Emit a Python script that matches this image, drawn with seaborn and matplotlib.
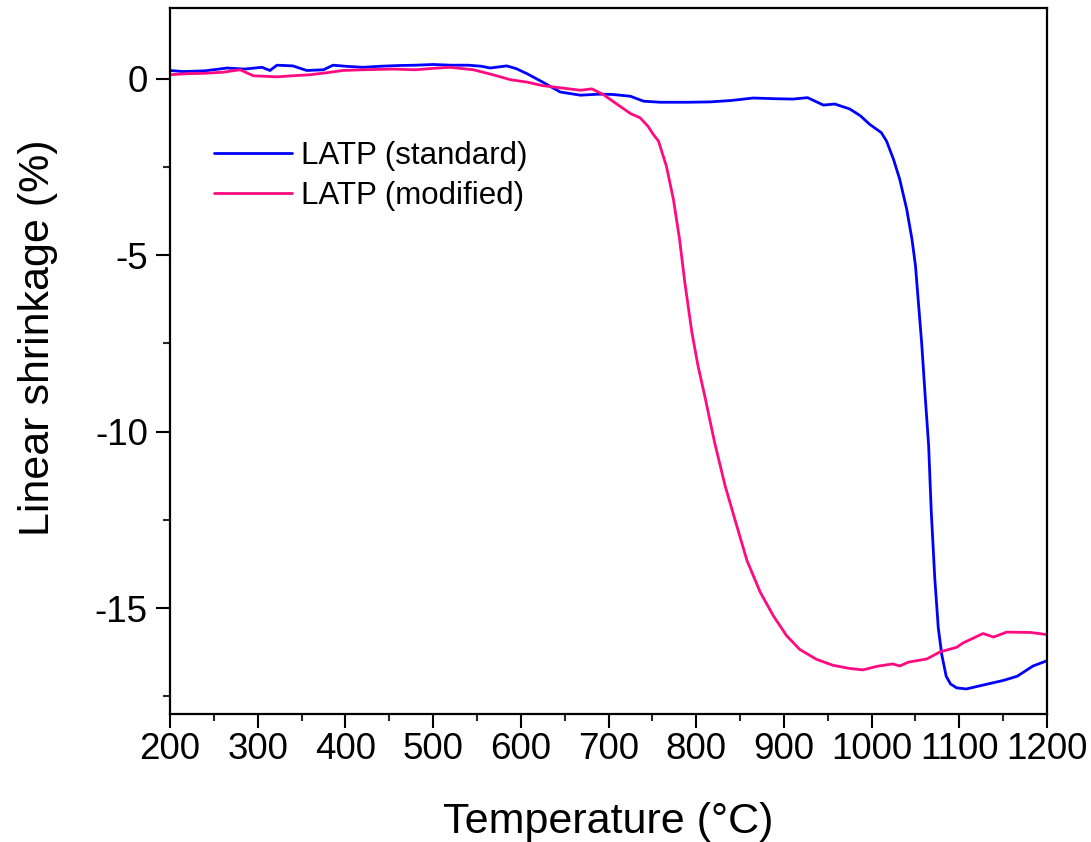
import matplotlib
matplotlib.use("Agg")
import matplotlib.pyplot as plt
import seaborn as sns
from matplotlib.ticker import MultipleLocator

# ---- data ----
temp_standard = [200, 215, 240, 265, 285, 305, 314, 322, 340, 356, 375, 386, 400, 420, 440,
                 460, 480, 500, 520, 540, 555, 565, 584, 595, 607, 625, 645, 668, 690, 705,
                 725, 740, 759, 790, 816, 840, 865, 890, 910, 927, 945, 958, 975, 987, 998,
                 1011, 1017, 1025, 1032, 1040, 1046, 1050, 1053, 1057, 1061, 1065, 1068, 1072,
                 1076, 1080, 1085, 1090, 1097, 1108, 1127, 1150, 1166, 1184, 1200]
shrink_standard = [0.23, 0.20, 0.22, 0.30, 0.27, 0.32, 0.23, 0.38, 0.36, 0.23, 0.25, 0.38, 0.35,
                   0.32, 0.35, 0.37, 0.38, 0.40, 0.38, 0.38, 0.35, 0.30, 0.36, 0.28, 0.14, -0.10,
                   -0.38, -0.47, -0.44, -0.45, -0.50, -0.64, -0.67, -0.67, -0.66, -0.62, -0.55,
                   -0.57, -0.58, -0.54, -0.75, -0.72, -0.86, -1.05, -1.30, -1.53, -1.77, -2.29,
                   -2.85, -3.70, -4.55, -5.30, -6.24, -7.47, -8.97, -10.39, -12.27, -14.15,
                   -15.56, -16.32, -16.93, -17.15, -17.26, -17.29, -17.18, -17.05, -16.93,
                   -16.64, -16.49]

temp_modified = [200, 220, 240, 260, 280, 295, 322, 340, 360, 380, 397, 420, 454, 480, 500, 519,
                 546, 568, 588, 607, 625, 645, 668, 681, 694, 710, 725, 736, 745, 751, 757, 766,
                 774, 781, 787, 795, 802, 810, 821, 833, 846, 858, 873, 888, 903, 918, 937, 956,
                 975, 990, 1006, 1024, 1032, 1042, 1063, 1078, 1097, 1104, 1127, 1139, 1154,
                 1181, 1200]
shrink_modified = [0.11, 0.14, 0.15, 0.18, 0.25, 0.08, 0.05, 0.08, 0.11, 0.17, 0.23, 0.25, 0.27,
                   0.25, 0.29, 0.32, 0.25, 0.11, -0.03, -0.10, -0.20, -0.26, -0.33, -0.29, -0.45,
                   -0.73, -0.99, -1.11, -1.35, -1.58, -1.77, -2.48, -3.42, -4.55, -5.77, -7.18,
                   -8.13, -9.02, -10.31, -11.54, -12.65, -13.66, -14.55, -15.22, -15.78, -16.17,
                   -16.45, -16.62, -16.71, -16.75, -16.65, -16.58, -16.64, -16.53, -16.44,
                   -16.24, -16.11, -15.99, -15.72, -15.82, -15.68, -15.69, -15.75]

labels = ["LATP (standard)", "LATP (modified)"]
colors = ["#0000FF", "#FF0A80"]
x_ticks = [200, 300, 400, 500, 600, 700, 800, 900, 1000, 1100, 1200]
y_ticks = [0, -5, -10, -15]

# ---- styling ----
sns.set_style("ticks")
plt.rcParams["font.family"] = ["Liberation Sans", "DejaVu Sans"]
plt.rcParams["text.color"] = "black"
plt.rcParams["axes.labelcolor"] = "black"

fig = plt.figure(figsize=(10.91, 8.42), dpi=100)
ax = fig.add_axes([0.1558, 0.152, 0.8039, 0.8385])

sns.lineplot(x=temp_standard, y=shrink_standard, color=colors[0], label=labels[0],
             linewidth=2.0, estimator=None, sort=False, ax=ax)
sns.lineplot(x=temp_modified, y=shrink_modified, color=colors[1], label=labels[1],
             linewidth=2.0, estimator=None, sort=False, ax=ax)

ax.set_xlim(200, 1200)
ax.set_ylim(-18, 2)
ax.set_xticks(x_ticks)
ax.set_yticks(y_ticks)
ax.set_xticklabels([str(t) for t in x_ticks])
ax.set_yticklabels([str(t) for t in y_ticks])
ax.xaxis.set_minor_locator(MultipleLocator(50))
ax.yaxis.set_minor_locator(MultipleLocator(2.5))

for s in ax.spines.values():
    s.set_visible(True)
    s.set_linewidth(1.6)
    s.set_color("black")

ax.tick_params(axis="both", which="major", direction="out", length=10, width=1.5,
               labelsize=26.5, colors="black", top=False, right=False)
ax.tick_params(axis="both", which="minor", direction="out", length=5, width=1.5,
               top=False, right=False)
ax.tick_params(axis="x", which="major", pad=3)
ax.tick_params(axis="y", which="major", pad=6)

ax.set_xlabel("Temperature (°C)", fontsize=31, labelpad=25)
ax.set_ylabel("Linear shrinkage (%)", fontsize=31)
ax.yaxis.set_label_coords(-0.128, 0.533)

ax.legend(loc="upper left", bbox_to_anchor=(0.05, 0.812), frameon=False, fontsize=22.5,
          handlelength=2.5, handletextpad=0.3, labelspacing=0.34, borderpad=0,
          borderaxespad=0)

fig.savefig("out.png", dpi=100)
